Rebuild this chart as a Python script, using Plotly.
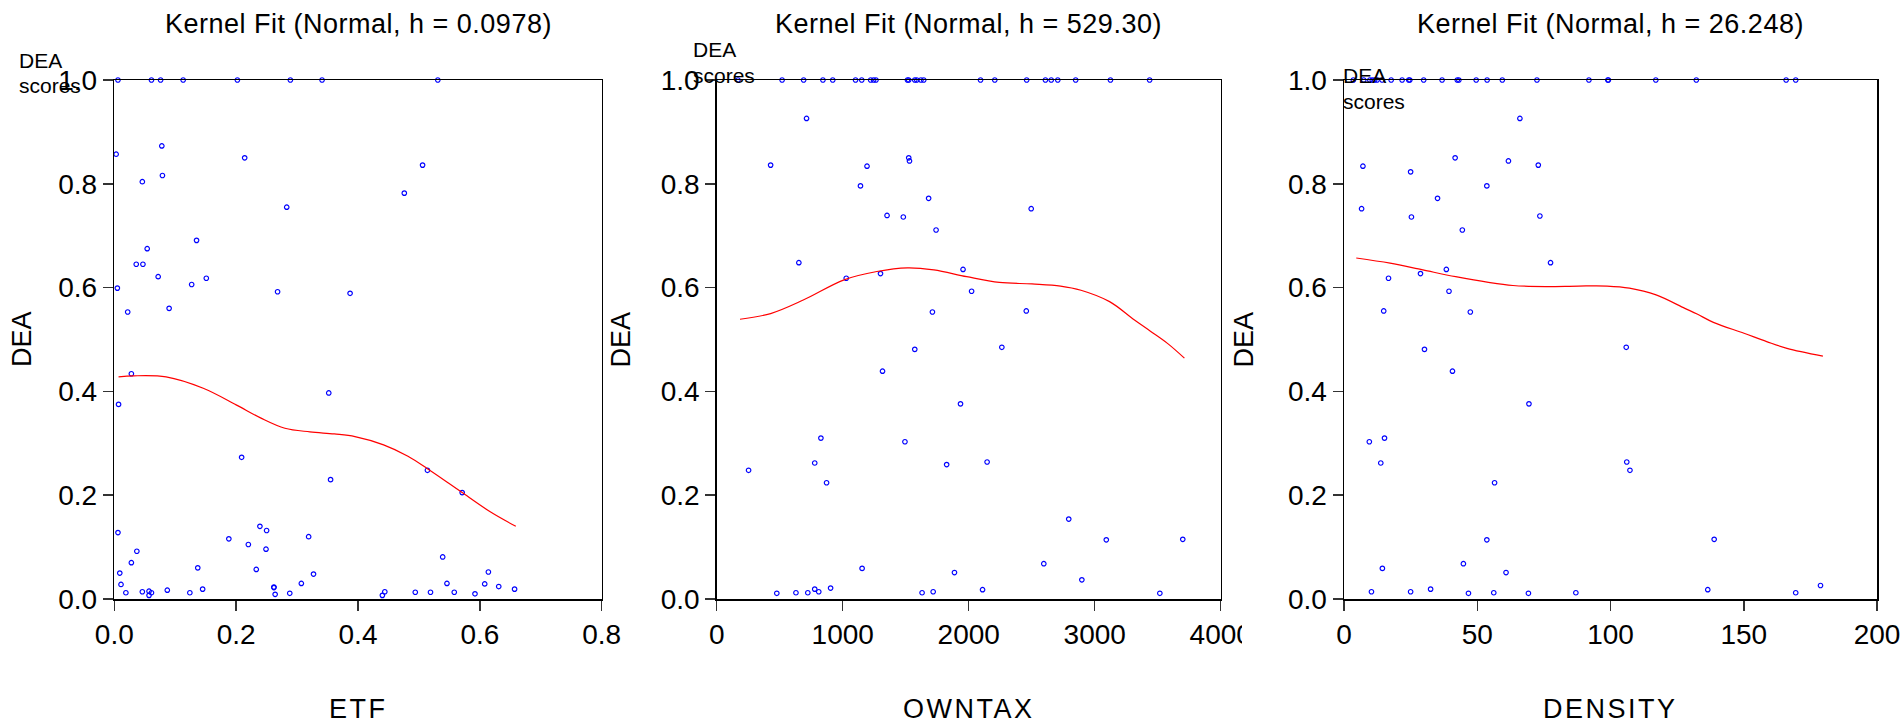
import plotly.graph_objects as go

# ---------------- data ----------------
# Panel 1: ETF vs DEA
etf_x = [0.006, 0.061, 0.076, 0.113, 0.202, 0.289, 0.341, 0.531,
         0.003, 0.078, 0.079, 0.046, 0.214, 0.506, 0.476, 0.283, 0.135, 0.054,
         0.036, 0.047, 0.072, 0.151, 0.127, 0.005, 0.268, 0.387, 0.022, 0.090,
         0.028, 0.007, 0.352, 0.209, 0.355, 0.514, 0.571, 0.006, 0.188, 0.220,
         0.239, 0.250, 0.249, 0.319, 0.037, 0.028, 0.137, 0.233, 0.327, 0.009,
         0.011, 0.019, 0.046, 0.057, 0.061, 0.057, 0.087, 0.124, 0.145, 0.262,
         0.262, 0.264, 0.288, 0.307, 0.440, 0.444, 0.494, 0.519, 0.539, 0.546,
         0.558, 0.592, 0.608, 0.614, 0.631, 0.657]
etf_y = [1.0, 1.0, 1.0, 1.0, 1.0, 1.0, 1.0, 1.0,
         0.857, 0.873, 0.816, 0.804, 0.850, 0.836, 0.782, 0.755, 0.691, 0.675,
         0.645, 0.645, 0.621, 0.618, 0.606, 0.599, 0.592, 0.589, 0.553, 0.560,
         0.434, 0.375, 0.397, 0.273, 0.230, 0.248, 0.205, 0.128, 0.116, 0.105,
         0.140, 0.132, 0.096, 0.120, 0.092, 0.070, 0.060, 0.057, 0.048, 0.050,
         0.028, 0.012, 0.014, 0.015, 0.012, 0.007, 0.017, 0.012, 0.019, 0.023,
         0.022, 0.009, 0.011, 0.030, 0.007, 0.014, 0.013, 0.013, 0.081, 0.030,
         0.013, 0.010, 0.029, 0.052, 0.024, 0.019]
etf_fit_x = [0.007, 0.032, 0.085, 0.146, 0.200, 0.240, 0.280, 0.321, 0.361,
             0.395, 0.442, 0.482, 0.514, 0.549, 0.571, 0.617, 0.659]
etf_fit_y = [0.428, 0.430, 0.428, 0.406, 0.374, 0.349, 0.329, 0.322, 0.318,
             0.313, 0.297, 0.275, 0.251, 0.223, 0.205, 0.168, 0.140]

# Panel 2: OWNTAX vs DEA
owntax_x = [169, 519, 690, 843, 921, 1102, 1151, 1222, 1245, 1264, 1514, 1524,
            1572, 1588, 1621, 1643, 2094, 2207, 2460, 2609, 2655, 2707, 2849,
            3125, 3436,
            713, 428, 1193, 1524, 1530, 1141, 1682, 2496, 1352, 1481, 1741, 652,
            1955, 1028, 1300, 2023, 1712, 2457,
            1572, 2263, 1316, 1935, 827, 1494, 253, 778, 1825, 2146, 872, 2794,
            3092, 3699, 2596, 1154, 1887, 2898, 477, 629, 723, 778, 810, 904,
            1630, 1718, 2110, 3517]
owntax_y = [1.0] * 25 + [
            0.926, 0.836, 0.834, 0.850, 0.844, 0.796, 0.772, 0.752, 0.739, 0.736,
            0.711, 0.648, 0.635, 0.618, 0.627, 0.593, 0.553, 0.555,
            0.481, 0.485, 0.439, 0.376, 0.310, 0.303, 0.248, 0.262, 0.259, 0.264,
            0.224, 0.154, 0.114, 0.115, 0.068, 0.059, 0.051, 0.037, 0.011, 0.012,
            0.012, 0.019, 0.014, 0.021, 0.012, 0.014, 0.018, 0.011]
owntax_fit_x = [185, 428, 687, 1011, 1271, 1514, 1724, 1984, 2243, 2502, 2729,
                2891, 3118, 3313, 3442, 3580, 3712]
owntax_fit_y = [0.539, 0.550, 0.576, 0.615, 0.631, 0.638, 0.634, 0.621, 0.610,
                0.607, 0.603, 0.595, 0.573, 0.538, 0.516, 0.492, 0.464]

# Panel 3: DENSITY vs DEA
density_x = [3.5, 7.4, 9.7, 10.6, 11.5, 12.4, 14.3, 17.7, 21.8, 24.3, 24.7, 29.9,
             36.8, 42.5, 43.1, 49.6, 53.7, 59.4, 72.4, 91.9, 99.0, 99.2, 117.0,
             132.2, 165.9, 169.5,
             66.0, 7.1, 41.7, 61.7, 72.9, 25.0, 53.6, 35.1, 6.6, 25.3, 73.5, 44.4,
             77.5, 38.4, 28.7, 16.7, 39.4, 14.9, 47.4,
             30.2, 105.9, 40.7, 69.4, 9.5, 15.2, 13.8, 106.1, 107.3, 56.5, 53.6,
             138.9, 44.8, 14.4, 60.8, 10.3, 25.0, 32.5, 46.7, 56.2, 69.2, 87.0,
             136.5, 169.5, 178.8]
density_y = [1.0] * 26 + [
             0.926, 0.834, 0.850, 0.844, 0.836, 0.823, 0.796, 0.772, 0.752, 0.736,
             0.738, 0.711, 0.648, 0.635, 0.627, 0.618, 0.593, 0.555, 0.553,
             0.481, 0.485, 0.439, 0.376, 0.303, 0.310, 0.262, 0.264, 0.248, 0.224,
             0.114, 0.115, 0.068, 0.059, 0.051, 0.014, 0.014, 0.019, 0.011, 0.012,
             0.011, 0.012, 0.018, 0.012, 0.026]
density_fit_x = [4.6, 17.3, 29.6, 41.9, 54.2, 63.4, 75.7, 88.0, 98.7, 107.1,
                 117.1, 127.9, 132.5, 138.6, 150.1, 158.6, 166.2, 179.7]
density_fit_y = [0.657, 0.647, 0.634, 0.621, 0.610, 0.604, 0.602, 0.603, 0.603,
                 0.599, 0.586, 0.560, 0.549, 0.533, 0.512, 0.496, 0.483, 0.468]

titles = ["Kernel Fit (Normal, h = 0.0978)", "Kernel Fit (Normal, h = 529.30)",
          "Kernel Fit (Normal, h = 26.248)"]
x_titles = ["ETF", "OWNTAX", "DENSITY"]
y_title = "DEA"
x_ranges = [[0, 0.8], [0, 4000], [0, 200]]
x_tickvals = [[0.0, 0.2, 0.4, 0.6, 0.8], [0, 1000, 2000, 3000, 4000],
              [0, 50, 100, 150, 200]]
x_formats = [".1f", "d", "d"]
y_tickvals = [0.0, 0.2, 0.4, 0.6, 0.8, 1.0]

# ---------------- layout geometry (pixels) ----------------
W, H = 1900, 724
panels_px = [(114.3, 601.7), (716.7, 1220.7), (1344.0, 1877.0)]
top_px, bottom_px = 80.0, 599.0
ytitle_px = [21.5, 620.0, 1243.0]
dea_lbl = [(17.0, 61.0, 85.7), (690.5, 49.4, 75.7), (1341.0, 76.0, 101.0)]

FONT = "Liberation Sans, Arial, sans-serif"

def px_x(v):
    return v / W

def px_y(v):
    return 1 - v / H

def spaced(txt, sp):
    return '<span style="letter-spacing:%spx">%s</span>' % (sp, txt)

series = [(etf_x, etf_y, etf_fit_x, etf_fit_y),
          (owntax_x, owntax_y, owntax_fit_x, owntax_fit_y),
          (density_x, density_y, density_fit_x, density_fit_y)]

fig = go.Figure()
annotations = []
for i, (sx, sy, fx, fy) in enumerate(series):
    ax = "" if i == 0 else str(i + 1)
    fig.add_trace(go.Scatter(
        x=sx, y=sy, mode="markers", xaxis="x" + ax, yaxis="y" + ax,
        marker=dict(symbol="circle-open", size=4.5, color="rgb(0,0,255)",
                    line=dict(width=1.2, color="rgb(0,0,255)")),
        cliponaxis=False, showlegend=False, hoverinfo="skip"))
    fig.add_trace(go.Scatter(
        x=fx, y=fy, mode="lines", xaxis="x" + ax, yaxis="y" + ax,
        line=dict(color="rgb(255,0,0)", width=1.2, shape="spline"),
        showlegend=False, hoverinfo="skip"))

    l, r = panels_px[i]
    common = dict(showline=True, linecolor="black", linewidth=1.5, mirror=True,
                  ticks="outside", ticklen=10, tickwidth=1.5, tickcolor="#333",
                  showgrid=False, zeroline=False, automargin=False,
                  ticklabeloverflow="allow",
                  tickfont=dict(family=FONT, size=28, color="black"))
    fig.update_layout(**{
        "xaxis" + ax: dict(domain=[px_x(l), px_x(r)], range=x_ranges[i],
                           tickmode="array", tickvals=x_tickvals[i],
                           tickformat=x_formats[i],
                           anchor="y" + ax, **common),
        "yaxis" + ax: dict(domain=[px_y(bottom_px), px_y(top_px)], range=[0, 1],
                           tickmode="array", tickvals=y_tickvals,
                           tickformat=".1f",
                           anchor="x" + ax, **common),
    })
    cx = (l + r) / 2
    annotations.append(dict(text=spaced(titles[i], 0.5), x=px_x(cx), y=px_y(24.5),
                            xref="paper", yref="paper", xanchor="center",
                            yanchor="middle", showarrow=False,
                            font=dict(family=FONT, size=27, color="black")))
    annotations.append(dict(text=spaced(x_titles[i], 2.5), x=px_x(cx), y=px_y(709),
                            xref="paper", yref="paper", xanchor="center",
                            yanchor="middle", showarrow=False,
                            font=dict(family=FONT, size=27, color="black")))
    annotations.append(dict(text=y_title, x=px_x(ytitle_px[i]),
                            y=px_y((top_px + bottom_px) / 2),
                            xref="paper", yref="paper", xanchor="center",
                            yanchor="middle", textangle=-90, showarrow=False,
                            font=dict(family=FONT, size=27, color="black")))
    lx, y1, y2 = dea_lbl[i]
    for txt, yy in (("DEA", y1), ("scores", y2)):
        annotations.append(dict(text=txt, x=px_x(lx), y=px_y(yy),
                                xref="paper", yref="paper", xanchor="left",
                                yanchor="middle", showarrow=False,
                                font=dict(family=FONT, size=21, color="black")))

fig.update_layout(
    width=W, height=H,
    margin=dict(l=0, r=0, t=0, b=0, pad=0, autoexpand=False),
    paper_bgcolor="white", plot_bgcolor="white",
    annotations=annotations,
    shapes=[dict(type="rect", xref="paper", yref="paper",
                 x0=px_x(1242), x1=px_x(1262), y0=px_y(655), y1=px_y(610),
                 fillcolor="white", line=dict(width=0), layer="above")],
)

fig.write_html(
    "out.html",
    config={"displayModeBar": False, "staticPlot": True},
    post_script="document.body.style.margin='0';"
                "document.body.style.overflow='hidden';",
)
